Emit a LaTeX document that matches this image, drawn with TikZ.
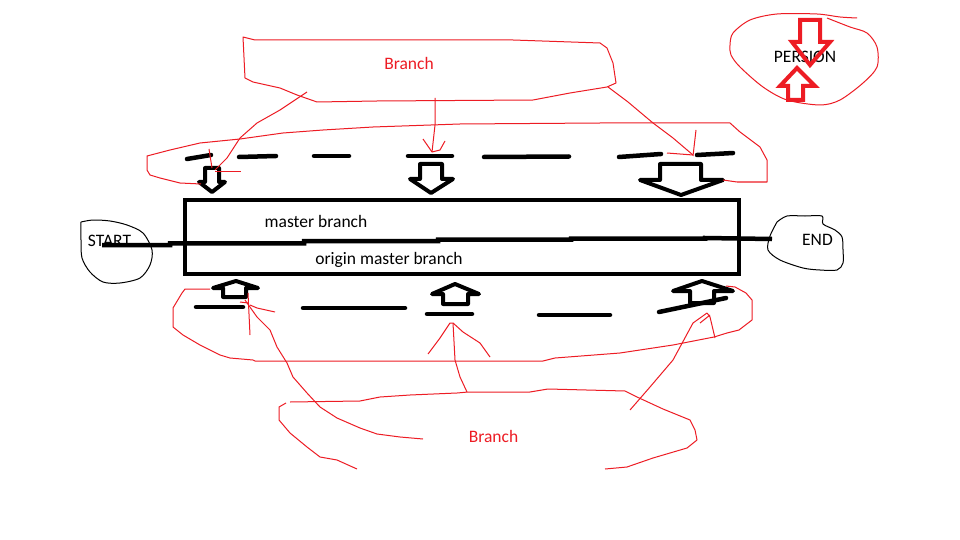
\documentclass[tikz,border=0pt]{standalone}
\usepackage{fontspec}
\setmainfont{Carlito}
\definecolor{pred}{HTML}{ED1C24}
\tikzset{
  txt/.style={inner sep=0pt, font=\fontsize{17.5}{20}\selectfont, text=black},
  rtxt/.style={txt, text=pred},
  redline/.style={draw=pred, line width=1pt, line join=round},
  blkthin/.style={draw=black, line width=1pt, line join=round},
  blkarrow/.style={draw=black, line width=4pt, line join=round},
  redarrow/.style={draw=pred, line width=4pt, line join=miter},
  dashseg/.style={draw=black, line width=4.5pt, line cap=round},
  mainbox/.style={draw=black, line width=4.5pt},
  mainline/.style={draw=black, line width=4.5pt},
}
\begin{document}
\begin{tikzpicture}[x=1pt,y=-1pt]
\useasboundingbox[fill=white] (0,0) rectangle (960,540);

% ---- text nodes
\node[txt]  (start)  at (109.5,241) {START};
\node[txt]  (end)    at (817.5,240) {END};
\node[txt]  (master) at (316,221) {master branch};
\node[txt]  (origin) at (389,260) {origin master branch};
\node[rtxt] (brtop)  at (409,63) {Branch};
\node[rtxt] (brbot)  at (493.5,436) {Branch};
\node[txt]  (pers)   at (805,57) {PERSION};

% ---- main box
\draw[mainbox] (185,200) rectangle (739,274);

% ---- START / END blobs
\draw[blkthin] plot[smooth,tension=0.5] coordinates {(81,222) (93,220) (110,221) (127,225) (143,233) (152,250) (150,265) (140,278) (120,283) (103,282) (90,272) (82,258) (81,240) (81,222)};
\draw[blkthin] plot[smooth,tension=0.5] coordinates {(777,222) (787,216) (805,216) (822,216) (823,224) (835,230) (842,237) (843,250) (843,263) (837,270) (820,270) (803,268) (780,260) (768,250) (770,236) (777,222)};

% ---- main line from START to END
\coordinate (s) at (102,245);
\coordinate (e) at (772,239);
\draw[mainline] (s) -- (170,245) -- (170,243.3) -- (304,243.3) -- (304,241) -- (438,241) -- (438,239.5) -- (571,239.5) -- (571,238.5) -- (705,238.5) -- (705,238) -- (e);

% ---- top dashes
\draw[dashseg] (187,159) -- (211,155);
\draw[dashseg] (239,157) -- (276,156);
\draw[dashseg] (314,156) -- (349,156);
\draw[dashseg] (408,156) -- (452,156);
\draw[dashseg] (484,157) -- (569,156.5);
\draw[dashseg] (619,157) -- (661,154);
\draw[dashseg] (697,155) -- (733,153);

% ---- bottom dashes
\draw[dashseg] (196,307) -- (243,307);
\draw[dashseg] (303,308) -- (405,308);
\draw[dashseg] (427,314) -- (472,314);
\draw[dashseg] (539,315) -- (610,315);
\draw[dashseg] (659,312) -- (726,298);

% ---- top down arrows
\draw[blkarrow] (205,168) -- (205,182) -- (199,182) -- (212,192) -- (225,182) -- (219,182) -- (219,168) -- cycle;
\draw[blkarrow] (420,164) -- (420,179) -- (410,179) -- (431,193) -- (453,179) -- (442,179) -- (442,164) -- cycle;
\draw[blkarrow] (660,164) -- (660,180) -- (640,180) -- (681,195) -- (723,180) -- (701,180) -- (701,164) -- cycle;

% ---- bottom up arrows
\draw[blkarrow] (223,297) -- (223,288) -- (213,288) -- (236,281) -- (258,288) -- (246,288) -- (246,297) -- cycle;
\draw[blkarrow] (443,304) -- (443,294) -- (432,294) -- (455,284) -- (479,294) -- (468,294) -- (468,304) -- cycle;
\draw[blkarrow] (690,303) -- (690,291) -- (673,291) -- (702,281) -- (733,291) -- (714,291) -- (714,303) -- cycle;

% ---- PERSION blob and arrows
\draw[redline] plot[smooth,tension=0.5] coordinates {(857,18) (840,17) (817,14) (777,14) (750,20) (733,33) (730,45) (731,55) (740,67) (763,87) (787,100) (820,105) (840,100) (863,83) (877,67) (877,47) (867,33) (850,27) (827,18)};
\draw[redarrow] (800,20) -- (800,42) -- (792,42) -- (810,65) -- (830,42) -- (820,42) -- (820,20) -- cycle;
\draw[redarrow] (788,100) -- (788,86) -- (780,86) -- (797,68) -- (815,86) -- (803,86) -- (803,100) -- cycle;

% ---- top Branch blob
\draw[redline] (243,37) -- (255,40) -- (513,40) -- (600,43) -- (607,48) -- (613,63) -- (616,83) -- (607,87) -- (570,93) -- (533,100) -- (377,101) -- (317,102) -- (297,95) -- (280,88) -- (253,82) -- (245,78) -- cycle;

% ---- lines from top Branch to top arrows
\draw[redline] (307,92) -- (280,110) -- (257,123) -- (240,138) -- (227,158) -- (215,170);
\draw[redline] (215,172) -- (241,172);
\draw[redline] (209,149) -- (212,168);
\draw[redline] (435,98) -- (435,125) -- (432,152);
\draw[redline] (423,139) -- (432,152) -- (440,150) -- (445,141);
\draw[redline] (608,87) -- (628,102) -- (653,123) -- (673,138) -- (693,155);
\draw[redline] (696,130) -- (693,156);
\draw[redline] (667,153) -- (693,155);

% ---- top dashed-region outline
\draw[redline] (201,184) -- (180,183) -- (160,178) -- (150,175) -- (147,170) -- (147,156) -- (170,150) -- (200,143) -- (240,139) -- (283,133) -- (323,130) -- (373,127) -- (460,124) -- (600,123) -- (730,123) -- (740,132) -- (760,147) -- (767,160) -- (767,182) -- (737,182) -- (723,180);

% ---- bottom dashed-region outline
\draw[redline] (210,289) -- (185,289) -- (182,293) -- (173,308) -- (173,327) -- (183,335) -- (200,345) -- (220,355) -- (230,358) -- (253,360) -- (255,361) -- (543,361) -- (555,358) -- (620,353) -- (673,345) -- (714,337) -- (727,333) -- (739,330) -- (752,320) -- (752,300) -- (746,293) -- (735,287) -- (726,286);

% ---- bottom Branch blob
\draw[redline] (290,402) -- (360,401) -- (380,397) -- (410,395) -- (457,393) -- (468,392) -- (530,392) -- (548,389) -- (625,391) -- (637,397) -- (663,409) -- (690,420) -- (695,430) -- (697,440) -- (687,448) -- (653,458) -- (627,467) -- (605,469);
\draw[redline] (286,403) -- (279,407) -- (279,420) -- (290,433) -- (307,447) -- (320,457) -- (337,460) -- (357,469);

% ---- lines from bottom Branch to bottom arrows
\draw[redline] (248,293) -- (250,335);
\draw[redline] (240,302) -- (248,303);
\draw[redline] (250,305) -- (257,308) -- (275,312);
\draw[redline] (245,300) -- (257,317) -- (270,330) -- (277,347) -- (287,363) -- (293,377) -- (307,393) -- (320,407) -- (337,418) -- (360,428) -- (377,434) -- (400,437) -- (423,439);
\draw[redline] (453,323) -- (455,360) -- (460,377) -- (467,392);
\draw[redline] (428,354) -- (440,338) -- (450,323) -- (453,323) -- (463,332) -- (480,343) -- (490,357);
\draw[redline] (707,313) -- (693,323) -- (673,360) -- (650,387) -- (630,410);
\draw[redline] (707,313) -- (710,317) -- (715,338);
\draw[redline] (700,323) -- (710,315);
\end{tikzpicture}
\end{document}
